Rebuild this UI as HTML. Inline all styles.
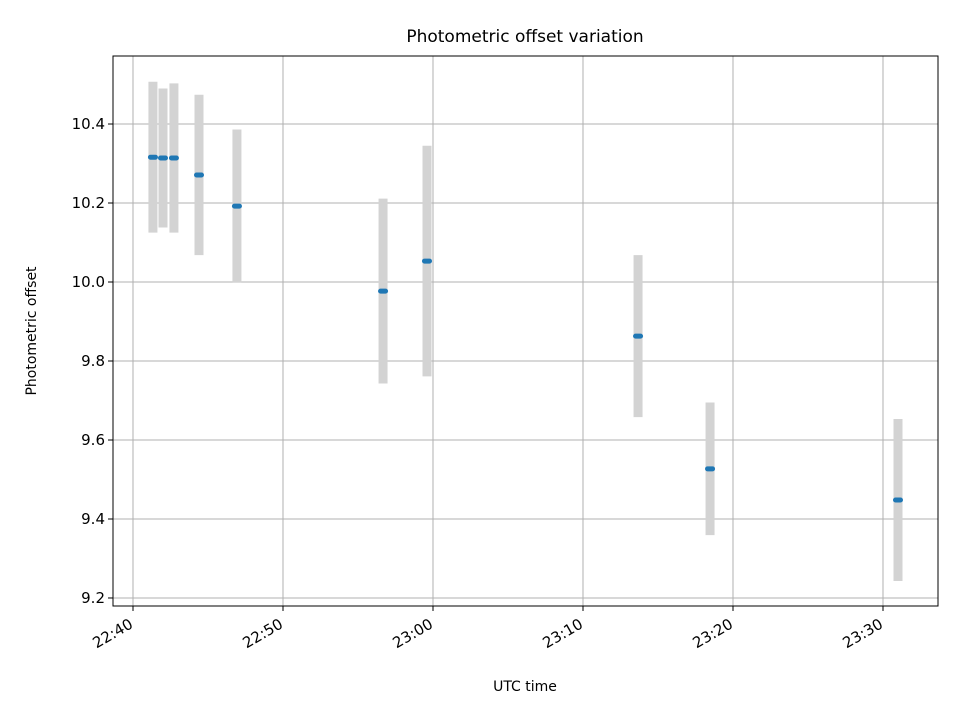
<!DOCTYPE html>
<html><head><meta charset="utf-8"><style>
body{margin:0;background:#fff;font-family:"Liberation Sans","DejaVu Sans",sans-serif}
</style></head><body>
<svg id="c" width="960" height="720" xmlns="http://www.w3.org/2000/svg" font-family="DejaVu Sans, Liberation Sans, sans-serif">
<text x="525" y="42" font-size="17" text-anchor="middle">Photometric offset variation</text>
<text x="525" y="691" font-size="14" text-anchor="middle">UTC time</text>
<text transform="translate(36,331) rotate(-90)" font-size="14" text-anchor="middle">Photometric offset</text>
<g id="grid"></g><g id="marks"></g><g id="axes"></g>
</svg>
<script>
const times = [1.33, 2.0, 2.73, 4.4, 6.93, 16.67, 19.6, 33.67, 38.47, 51.0];
const offsets = [10.316, 10.314, 10.314, 10.271, 10.192, 9.977, 10.053, 9.863, 9.527, 9.448];
const errors = [0.191, 0.176, 0.189, 0.203, 0.194, 0.234, 0.292, 0.205, 0.168, 0.205];
const xTicks = [0, 10, 20, 30, 40, 50];
const xTickLabels = ["22:40", "22:50", "23:00", "23:10", "23:20", "23:30"];
const yTicks = [9.2, 9.4, 9.6, 9.8, 10.0, 10.2, 10.4];
const yTickLabels = ["9.2", "9.4", "9.6", "9.8", "10.0", "10.2", "10.4"];

const L=113,R=938,T=56,B=606;
const xMin=-1.333,xMax=53.667,yMin=9.1797,yMax=10.5722;
const X=v=>L+(v-xMin)/(xMax-xMin)*(R-L);
const Y=v=>B-(v-yMin)/(yMax-yMin)*(B-T);
const NS="http://www.w3.org/2000/svg";
function mk(tag,attrs,parent){const e=document.createElementNS(NS,tag);for(const k in attrs)e.setAttribute(k,attrs[k]);parent.appendChild(e);return e;}
const grid=document.getElementById('grid'),marks=document.getElementById('marks'),axes=document.getElementById('axes');
xTicks.forEach((t,i)=>{
  const x=X(t);
  const g=mk('line',{x1:x,x2:x,y1:T,y2:B,stroke:'#b0b0b0','stroke-width':1},grid);
  
  const tk=mk('line',{x1:x,x2:x,y1:B,y2:B+5,stroke:'#000'},axes);
  
  const tx=mk('text',{x:0,y:0,'font-size':15,'text-anchor':'end',transform:`translate(${x+1},${B+21}) rotate(-30)`},axes);
  tx.textContent=xTickLabels[i];
  
});
yTicks.forEach((t,i)=>{
  const y=Y(t);
  const g=mk('line',{x1:L,x2:R,y1:y,y2:y,stroke:'#b0b0b0','stroke-width':1},grid);
  
  const tk=mk('line',{x1:L-5,x2:L,y1:y,y2:y,stroke:'#000'},axes);
  
  const tx=mk('text',{x:L-8,y:y+5,'font-size':15,'text-anchor':'end'},axes);
  tx.textContent=yTickLabels[i];
  
});
times.forEach((t,i)=>{
  const x=X(t);
  const eb=mk('line',{x1:x,x2:x,y1:Y(offsets[i]+errors[i]),y2:Y(offsets[i]-errors[i]),stroke:'#d3d3d3','stroke-width':9},marks);
  
  const p=mk('rect',{x:x-5,y:Y(offsets[i])-2.5,width:10,height:5,rx:2.5,fill:'#1f77b4'},marks);
  
});
const fr=mk('rect',{x:L,y:T,width:R-L,height:B-T,fill:'none',stroke:'#000','stroke-width':1},axes);

</script>
</body></html>
